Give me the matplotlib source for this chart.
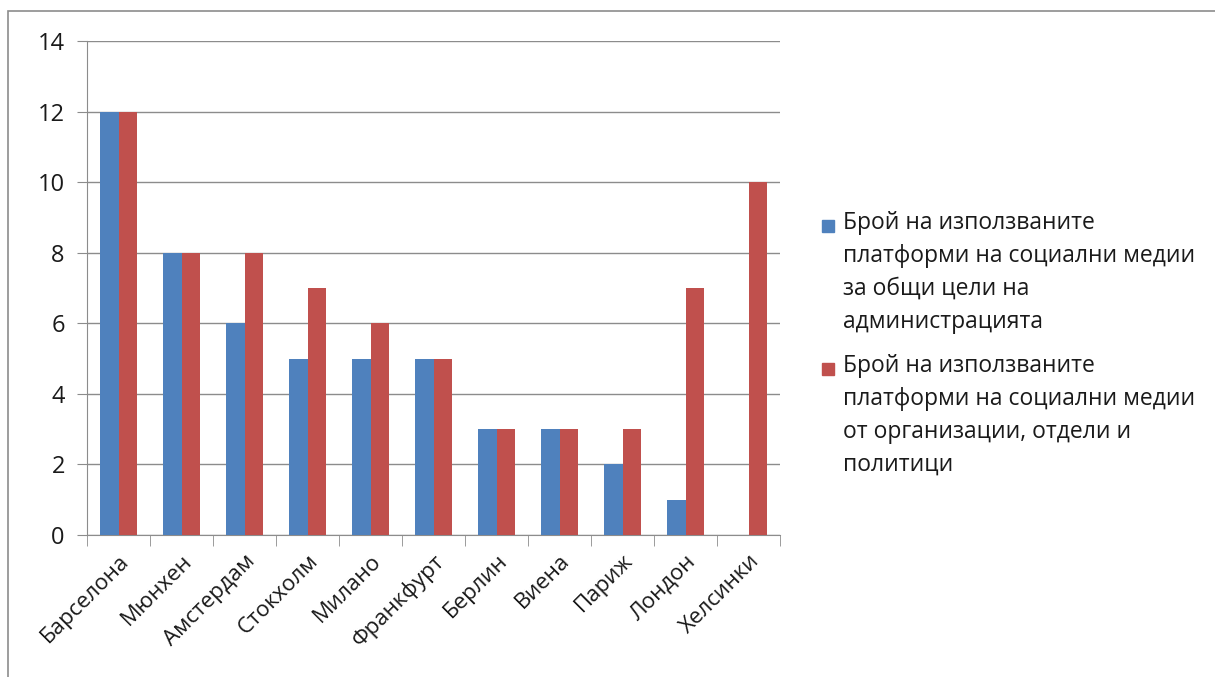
import numpy as np
import matplotlib.pyplot as plt
from matplotlib.patches import Rectangle

plt.rcParams['font.family'] = ['Open Sans', 'DejaVu Sans']

cities = ['Барселона', 'Мюнхен', 'Амстердам', 'Стокхолм', 'Милано', 'Франкфурт',
          'Берлин', 'Виена', 'Париж', 'Лондон', 'Хелсинки']
general = [12, 8, 6, 5, 5, 5, 3, 3, 2, 1, 0]
by_orgs = [12, 8, 8, 7, 6, 5, 3, 3, 3, 7, 10]
labels = ['Брой на използваните\nплатформи на социални медии\nза общи цели на\nадминистрацията',
          'Брой на използваните\nплатформи на социални медии\nот организации, отдели и\nполитици']
colors = ['#4F81BD', '#C0504D']

fig = plt.figure(figsize=(12.15, 6.77), dpi=100)
W, H = 1215, 677
ax = fig.add_axes([87 / W, 1 - 535 / H, (780 - 87) / W, (535 - 41) / H])

x = np.arange(len(cities))
w = 0.29
ax.bar(x - w / 2, general, w, color=colors[0], zorder=3)
ax.bar(x + w / 2, by_orgs, w, color=colors[1], zorder=3)

ax.set_xlim(-0.5, len(cities) - 0.5)
ax.set_ylim(0, 14)
ax.set_yticks(range(0, 15, 2))
ax.yaxis.grid(True, color='#8c8c8c', lw=1)
ax.set_axisbelow(True)

ax.set_xticks(x)
ax.set_xticklabels(cities, rotation=45, ha='right', rotation_mode='anchor',
                   fontsize=16, color='#1a1a1a')
ax.set_xticks(np.arange(-0.5, len(cities)), minor=True)
ax.tick_params(axis='x', which='major', length=0, pad=11)
ax.tick_params(axis='x', which='minor', length=8, color='#8c8c8c')
ax.tick_params(axis='y', length=7, color='#8c8c8c', labelsize=17, pad=9,
               labelcolor='#1a1a1a')
for s in ['top', 'right']:
    ax.spines[s].set_visible(False)
for s in ['left', 'bottom']:
    ax.spines[s].set_color('#8c8c8c')

# legend drawn by hand so the square sits on the first line
tops = [211, 354]
for lab, c, t in zip(labels, colors, tops):
    fig.patches.append(Rectangle((822 / W, 1 - (t + 21) / H), 12 / W, 12 / H,
                                 color=c, transform=fig.transFigure))
    fig.text(843 / W, 1 - t / H, lab, fontsize=16.5, va='top', ha='left',
             linespacing=1.5, color='#1a1a1a')

# outer frame
fig.patches.append(Rectangle((8 / W, -0.05), 1.1, 1 - 11 / H + 0.05, fill=False,
                             edgecolor='#8c8c8c', lw=1.2, transform=fig.transFigure))

fig.savefig('out.png', dpi=100)
